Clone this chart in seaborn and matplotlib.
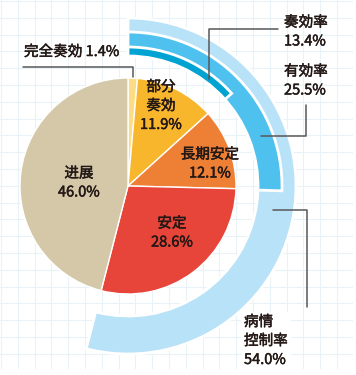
import numpy as np
import seaborn as sns
import matplotlib.pyplot as plt
import matplotlib.patheffects as pe

# 内側の円グラフ（%）
slice_labels = ['完全奏効', '部分\n奏効', '長期安定', '安定', '进展']
slice_values = [1.4, 11.9, 12.1, 28.6, 46.0]
slice_colors = ['#FDDC86', '#F8B62D', '#EE8035', '#E8453A', '#D4C8A9']

# 外側のリング（%）
ring_labels = ['病情\n控制率', '有効率', '奏効率']
ring_values = [54.0, 25.5, 13.4]
ring_colors = ['#B8E2F7', '#4FC1EE', '#00A3D1']

W, H = 356, 375
sns.set_style("white")
plt.rcParams['font.family'] = ['Noto Sans CJK JP', 'DejaVu Sans']

fig = plt.figure(figsize=(W / 100, H / 100), dpi=100)
ax = fig.add_axes([0, 0, 1, 1])


def Y(py):
    # ピクセル座標（上から）→ データ座標（下から）
    return H - py


center = (128, Y(186))

# 背景の方眼
grid_c = '#E8F2F7'
for gx in np.arange(1, 352, 16.8):
    ax.plot([gx, gx], [Y(0), Y(368)], color=grid_c, lw=0.8, zorder=0)
for gy in np.arange(1, 368, 16.8):
    ax.plot([0, 352], [Y(gy), Y(gy)], color=grid_c, lw=0.8, zorder=0)

# 外側のリング：同じ内径から、外径だけ変えて重ねる
inner_r = 130
outer_r = [168, 154, 139]
for i, (val, col, r) in enumerate(zip(ring_values, ring_colors, outer_r)):
    wedges, _ = ax.pie([val, 100 - val], colors=[col, 'none'], radius=r,
                       center=center, startangle=90, counterclock=False,
                       wedgeprops=dict(width=r - inner_r, edgecolor='white',
                                       linewidth=2.0))
    wedges[1].set_visible(False)
    for w in wedges:
        w.set_zorder(2 + i)

# 内側の円グラフ
wedges, _ = ax.pie(slice_values, colors=slice_colors, radius=108,
                   center=center, startangle=90, counterclock=False,
                   wedgeprops=dict(edgecolor='white', linewidth=1.0))
for w in wedges:
    w.set_zorder(6)

ax.set_xlim(0, W)
ax.set_ylim(0, H)
ax.set_aspect('equal')
ax.axis('off')

txt = '#231815'
line_c = '#595757'
# 少し太めに見せるため細いストロークを重ねる
thick = [pe.withStroke(linewidth=0.35, foreground=txt)]
tk = dict(color=txt, fontsize=10.5, linespacing=1.45, zorder=10, path_effects=thick)

# 円グラフのラベル
ax.text(24, Y(52), f'{slice_labels[0]} {slice_values[0]}%', ha='left', va='center', **tk)
ax.plot([23, 133, 133], [Y(67), Y(67), Y(77)], color=line_c, lw=1.1, zorder=9)
ax.text(161, Y(106), f'{slice_labels[1]}\n{slice_values[1]}%', ha='center', va='center', **tk)
ax.text(210, Y(164), f'{slice_labels[2]}\n{slice_values[2]}%', ha='center', va='center', **tk)
ax.text(172, Y(233), f'{slice_labels[3]}\n{slice_values[3]}%', ha='center', va='center', **tk)
ax.text(79, Y(183), f'{slice_labels[4]}\n{slice_values[4]}%', ha='center', va='center', **tk)

# リングのラベル
ax.text(284, Y(32), f'{ring_labels[2]}\n{ring_values[2]}%', ha='left', va='center', **tk)
ax.plot([278, 209, 209], [Y(29), Y(29), Y(79)], color=line_c, lw=1.1, zorder=9)
ax.text(284, Y(81), f'{ring_labels[1]}\n{ring_values[1]}%', ha='left', va='center', **tk)
ax.plot([306, 306, 261], [Y(105), Y(136), Y(136)], color=line_c, lw=1.1, zorder=9)
ax.text(244, Y(341), f'{ring_labels[0]}\n{ring_values[0]}%', ha='left', va='center',
        bbox=dict(facecolor='white', edgecolor='none', pad=2), **tk)
ax.plot([273, 307, 307], [Y(210), Y(210), Y(307)], color=line_c, lw=1.1, zorder=9)

fig.savefig('out.png', dpi=100)
